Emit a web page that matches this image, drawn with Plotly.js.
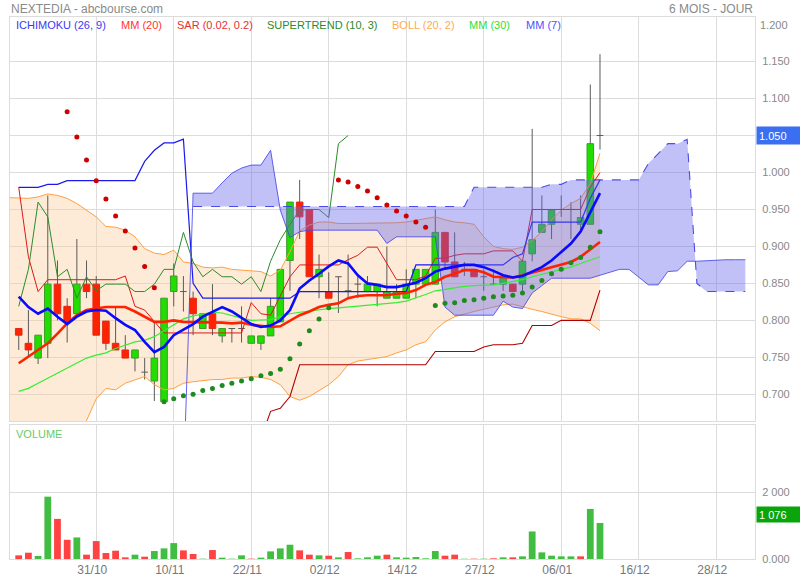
<!DOCTYPE html>
<html><head><meta charset="utf-8">
<script src="https://cdn.plot.ly/plotly-3.0.1.min.js"></script>
<style>html,body{margin:0;padding:0;background:#fff}#chart{width:800px;height:580px}</style>
</head><body><div id="chart"></div>
<script>
// ---- price data (index 0..60) ----
const openP  = [0.789,0.769,0.749,0.769,0.849,0.819,0.809,0.849,0.849,0.799,
                0.769,0.760,0.749,0.730,0.718,0.690,0.839,0.839,0.830,0.789,
                0.809,0.779,0.789,0.789,0.769,0.769,0.779,0.798,0.881,0.960,
                0.950,0.859,0.839,0.859,0.840,0.849,0.839,0.839,0.830,0.830,
                0.830,0.849,0.849,0.849,0.919,0.879,0.869,0.869,0.859,0.849,
                0.849,0.849,0.849,0.890,0.919,0.930,0.950,0.950,0.930,0.930,
                1.050];
const highP  = [0.789,0.814,0.780,0.969,0.881,0.830,0.910,0.881,0.860,0.799,
                0.819,0.780,0.760,0.749,0.798,0.830,0.877,0.860,0.839,0.809,
                0.849,0.789,0.789,0.819,0.779,0.779,0.830,0.869,0.960,0.990,
                0.950,0.889,0.865,0.859,0.889,0.859,0.860,0.849,0.900,0.849,
                0.869,0.869,0.869,0.950,0.919,0.919,0.879,0.869,0.869,0.869,
                0.859,0.849,0.880,1.059,0.969,0.949,0.969,0.960,0.969,1.119,
                1.160];
const lowP   = [0.760,0.751,0.741,0.749,0.800,0.770,0.809,0.830,0.780,0.760,
                0.760,0.749,0.731,0.720,0.691,0.690,0.819,0.812,0.780,0.789,
                0.780,0.770,0.770,0.770,0.769,0.760,0.779,0.798,0.840,0.910,
                0.859,0.830,0.830,0.810,0.830,0.830,0.839,0.819,0.830,0.830,
                0.830,0.830,0.849,0.849,0.870,0.859,0.860,0.859,0.840,0.849,
                0.840,0.839,0.839,0.880,0.919,0.910,0.940,0.910,0.919,0.930,
                1.031];
const closeP = [0.780,0.760,0.780,0.849,0.809,0.798,0.849,0.839,0.780,0.769,
                0.760,0.749,0.760,0.730,0.749,0.830,0.860,0.839,0.809,0.809,
                0.789,0.789,0.789,0.789,0.779,0.779,0.819,0.869,0.960,0.940,
                0.859,0.869,0.830,0.859,0.840,0.849,0.849,0.849,0.839,0.839,
                0.849,0.869,0.869,0.919,0.879,0.859,0.869,0.859,0.859,0.849,
                0.859,0.839,0.880,0.909,0.930,0.949,0.950,0.950,0.939,1.039,
                1.050];
const volume = [109,188,89,1861,1198,574,644,129,535,178,
                248,50,129,69,238,317,475,257,149,10,
                267,40,10,109,10,40,228,317,426,257,
                129,109,99,50,208,20,50,99,129,50,
                40,59,20,238,99,129,8,10,10,20,
                50,50,79,822,198,99,79,79,79,1495,
                1076];

// ---- indicators ----
const mm20 = [0.742,0.751,0.760,0.769,0.782,0.796,0.807,0.814,0.816,0.818,
              0.818,0.818,0.812,0.805,0.798,0.798,0.800,0.798,0.798,0.797,
              0.798,0.797,0.796,0.797,0.794,0.792,0.791,0.792,0.800,0.807,
              0.812,0.818,0.821,0.823,0.830,0.833,0.834,0.834,0.834,0.836,
              0.837,0.841,0.848,0.852,0.859,0.863,0.868,0.868,0.865,0.859,
              0.858,0.858,0.861,0.864,0.868,0.872,0.875,0.879,0.886,0.896,
              0.906];
const mm7  = [0.832,0.818,0.809,0.816,0.805,0.795,0.805,0.812,0.814,0.813,
              0.803,0.794,0.787,0.771,0.757,0.764,0.780,0.788,0.795,0.805,
              0.812,0.818,0.812,0.803,0.795,0.791,0.793,0.800,0.814,0.843,
              0.854,0.863,0.873,0.881,0.877,0.861,0.850,0.848,0.845,0.845,
              0.848,0.851,0.857,0.866,0.870,0.872,0.875,0.875,0.872,0.867,
              0.861,0.858,0.860,0.866,0.872,0.881,0.893,0.904,0.920,0.945,
              0.972];
const mm30 = [0.704,0.708,0.715,0.722,0.728,0.735,0.742,0.749,0.753,0.756,
              0.762,0.767,0.771,0.773,0.778,0.786,0.794,0.802,0.806,0.809,
              0.811,0.810,0.806,0.803,0.800,0.800,0.801,0.805,0.809,0.811,
              0.813,0.815,0.816,0.817,0.818,0.819,0.820,0.821,0.822,0.824,
              0.826,0.830,0.835,0.840,0.842,0.845,0.846,0.847,0.847,0.848,
              0.850,0.852,0.855,0.859,0.862,0.866,0.869,0.872,0.877,0.882,
              0.886];
// Bollinger bands start one session before the first candle (index -1)
const BOLL_START = -1;
const bollUpper = [0.966,
              0.965,0.965,0.967,0.971,0.969,0.965,0.958,0.949,0.940,0.927,
              0.926,0.922,0.913,0.897,0.891,0.889,0.895,0.879,0.877,0.872,
              0.871,0.872,0.869,0.868,0.867,0.866,0.860,0.868,0.893,0.921,
              0.929,0.933,0.933,0.931,0.931,0.931,0.931,0.931,0.932,0.932,
              0.933,0.935,0.937,0.940,0.936,0.933,0.932,0.930,0.913,0.900,
              0.897,0.896,0.899,0.908,0.920,0.936,0.949,0.958,0.965,0.985,
              1.026];
const bollLower = [0.510,
              0.520,0.540,0.550,0.560,0.580,0.600,0.635,0.665,0.694,0.708,
              0.706,0.715,0.719,0.724,0.713,0.706,0.708,0.715,0.717,0.719,
              0.720,0.720,0.722,0.722,0.724,0.723,0.720,0.713,0.697,0.692,
              0.697,0.705,0.713,0.724,0.740,0.745,0.747,0.749,0.751,0.756,
              0.760,0.767,0.771,0.787,0.798,0.805,0.809,0.812,0.815,0.818,
              0.821,0.822,0.818,0.815,0.812,0.808,0.805,0.802,0.802,0.796,
              0.786];
// Ichimoku
const tenkan = [0.980,0.886,0.839,0.855,0.855,0.855,0.855,0.855,0.855,0.855,
                0.855,0.860,0.819,0.814,0.798,0.783,0.783,0.783,0.783,0.783,
                0.783,0.783,0.783,0.783,0.824,0.809,0.807,0.832,0.859,0.875,
                0.875,0.875,0.875,0.875,0.882,0.888,0.899,0.899,0.877,0.855,
                0.855,0.855,0.860,0.884,0.884,0.888,0.890,0.890,0.890,0.894,
                0.894,0.894,0.880,0.950,0.950,0.950,0.950,0.950,0.950,0.980,
                1.000];
const kijun  = [0.980,0.980,0.980,0.984,0.984,0.989,0.989,0.989,0.989,0.989,
                0.989,0.989,0.989,1.015,1.030,1.040,1.040,1.045,0.850,0.830,
                0.830,0.830,0.830,0.830,0.830,0.830,0.830,0.830,0.830,0.839,
                0.839,0.839,0.839,0.839,0.839,0.839,0.839,0.839,0.839,0.839,
                0.839,0.875,0.875,0.875,0.875,0.875,0.875,0.875,0.875,0.875,
                0.875,0.885,0.890,0.933,0.933,0.933,0.933,0.933,0.933,0.965,
                0.990];
const CHIKOU_SHIFT = 26;
const SPAN_SOLID_START = 17;
const spanSolid = [0.580,
                0.972,0.972,0.972,0.986,0.999,1.006,1.010,1.010,1.030,0.949,
                0.912,0.920,0.922,0.922,0.922,0.922,0.922,0.922,0.922,0.922,
                0.904,0.913,0.913,0.913,0.913,0.913,0.818,0.807,0.807,0.807,
                0.807,0.807,0.826,0.818,0.816,0.837,0.847,0.857,0.857,0.857,
                0.857,0.857,0.861,0.865,0.869,0.869,0.858,0.848,0.848,0.866,
                0.867,0.880,0.880,0.881,0.882,0.882,0.882,0.882];
const SPAN_DASHED_START = 18;
const spanDashed = [0.954,0.954,0.954,0.954,0.954,0.954,0.954,0.954,0.954,0.954,
                0.954,0.954,0.954,0.954,0.954,0.954,0.954,0.954,0.954,0.954,
                0.954,0.954,0.954,0.954,0.954,0.954,0.954,0.954,0.954,
                0.980,0.980,0.980,0.980,0.980,0.980,0.980,0.980,
                0.984,0.984,
                0.990,0.990,0.990,0.990,0.990,0.990,0.990,0.990,
                1.012,1.025,1.039,1.039,1.045,0.850,
                0.839,0.839,0.839,0.839,0.839];
// Parabolic SAR
const sar = [null,null,null,null,null,1.082,1.048,1.017,0.989,0.964,
             0.941,0.921,0.898,0.873,0.844,0.690,0.694,0.698,0.700,0.705,
             0.708,0.712,0.715,0.718,0.721,0.725,0.728,0.734,0.748,0.768,
             0.786,0.802,0.817,0.990,0.987,0.981,0.975,0.966,0.956,0.948,
             0.941,0.933,0.926,0.820,0.823,0.824,0.827,0.828,0.830,0.832,
             0.833,0.834,0.837,0.845,0.854,0.863,0.869,0.878,0.885,0.899,
             0.920];
// Supertrend
const ST_START = 25;
const supertrend = [0.640,0.677,0.681,0.697,
             0.740,0.740,0.740,0.740,0.740,0.740,0.740,0.740,0.740,0.740,0.740,0.740,0.740,0.740,
             0.758,0.758,0.758,0.758,0.758,
             0.764,0.767,0.767,0.767,0.769,
             0.793,0.793,0.793,
             0.800,0.800,0.800,0.800,
             0.841];

// ---- axis ticks ----
const tickIdx = [8,16,24,32,40,48,56,64,72];
const tickLabels = ['31/10','10/11','22/11','02/12','14/12','27/12','06/01','16/12','28/12'];
const priceTicks = [0.70,0.75,0.80,0.85,0.90,0.95,1.00,1.05,1.10,1.15];
const lastPrice = 1.050;
const lastVolume = 1076;

// ---- build traces ----
const N = closeP.length;
const idx = closeP.map((_, i) => i);
const seq = (start, arr) => arr.map((_, i) => start + i);
const W = 0.34;

const wx = [], wy = [];
for (let i = 0; i < N; i++) {
  wx.push(i, i, null); wy.push(lowP[i], highP[i], null);
  if (openP[i] === closeP[i]) { wx.push(i - W, i + W, null); wy.push(openP[i], openP[i], null); }
}
function bodies(test) {
  const xs = [], ys = [];
  for (let i = 0; i < N; i++) {
    if (!test(i)) continue;
    const lo = Math.min(openP[i], closeP[i]), hi = Math.max(openP[i], closeP[i]);
    xs.push(i - W, i + W, i + W, i - W, i - W, null);
    ys.push(lo, lo, hi, hi, lo, null);
  }
  return {xs, ys};
}
const up = bodies(i => closeP[i] > openP[i]);
const dn = bodies(i => closeP[i] < openP[i]);

const chikouY = closeP.slice(CHIKOU_SHIFT);
const chikouX = chikouY.map((_, i) => i);

const volColors = volume.map((_, i) => {
  const rising = i === 0 ? closeP[i] >= openP[i] : closeP[i] >= closeP[i - 1];
  return rising ? '#41bd41' : '#ff4242';
});
const sarColors = sar.map((v, i) => (v !== null && v > closeP[i]) ? '#d00000' : '#1f8a1f');

const bollX = seq(BOLL_START, bollUpper);
const solidX = seq(SPAN_SOLID_START, spanSolid);
const dashedX = seq(SPAN_DASHED_START, spanDashed);
const fillOffset = SPAN_DASHED_START - SPAN_SOLID_START;

const L = (x, y, color, width, extra) => Object.assign({type:'scatter', mode:'lines', x, y,
  line:{color, width}, hoverinfo:'skip', xaxis:'x', yaxis:'y'}, extra || {});

const traces = [
  L(bollX, bollUpper, 'rgba(0,0,0,0)', 0),
  L(bollX, bollLower, 'rgba(0,0,0,0)', 0, {fill:'tonexty', fillcolor:'rgba(250,205,155,0.40)'}),
  L(wx, wy, '#5a5a5a', 1),
  L(up.xs, up.ys, '#3c9b2c', 1, {fill:'toself', fillcolor:'#22dd00'}),
  L(dn.xs, dn.ys, '#e02a1a', 1, {fill:'toself', fillcolor:'#ff2200'}),
  L(bollX, bollUpper, '#ffa040', 1),
  L(bollX, bollLower, '#ffa040', 1),
  L(idx, tenkan, '#e01818', 1),
  L(idx, kijun, '#1a1af0', 1.2),
  L(chikouX, chikouY, '#2a8c2a', 1),
  L(seq(ST_START, supertrend), supertrend, '#b00000', 1.1),
  L(dashedX, spanDashed, 'rgba(60,60,235,0.9)', 1, {line:{color:'rgba(60,60,235,0.9)', width:1.1, dash:'dash'}}),
  L(solidX.slice(fillOffset), spanSolid.slice(fillOffset), 'rgba(0,0,0,0)', 0, {fill:'tonexty', fillcolor:'rgba(100,100,235,0.40)'}),
  L(solidX, spanSolid, 'rgba(70,70,235,0.85)', 1),
  L(idx, mm30, '#33ee33', 1.2),
  L(idx, mm20, '#ff2200', 2.6),
  L(idx, mm7, '#0a0aff', 2.6),
  {type:'scatter', mode:'markers', x:idx, y:sar, marker:{color:sarColors, size:5}, hoverinfo:'skip', xaxis:'x', yaxis:'y'},
  {type:'bar', x:idx, y:volume, marker:{color:volColors}, width:0.7, hoverinfo:'skip', xaxis:'x', yaxis:'y2'}
];

const grid = '#dcdcdc';
const ann = [];
const T = (text, x, y, color, size, extra) => ann.push(Object.assign({text, x, y, xref:'paper', yref:'paper',
  showarrow:false, xanchor:'left', yanchor:'middle', font:{color, size}}, extra || {}));
T('NEXTEDIA - abcbourse.com', -0.002, 1, '#8a8a8a', 12, {yshift:8});
T('6 MOIS - JOUR', 1.0, 1, '#8a8a8a', 12, {xanchor:'right', yshift:8});
const legendItems = [
  ['ICHIMOKU (26, 9)', 15, '#3a3af5'], ['MM (20)', 120, '#ff3333'], ['SAR (0.02, 0.2)', 176, '#e53030'],
  ['SUPERTREND (10, 3)', 266, '#2a8a2a'], ['BOLL (20, 2)', 391, '#ffaa50'], ['MM (30)', 468, '#33dd33'],
  ['MM (7)', 525, '#5050ff']];
legendItems.forEach(([t, px, c]) => T(t, (px - 11) / 745, 1, c, 11, {yshift:-8}));
T('VOLUME', (15 - 11) / 745, 0.2472, '#66cc66', 11, {yshift:-9});
T('1.200', 1, 1.2, '#888', 11, {yref:'y', xshift:3});
ann.push({text:lastPrice.toFixed(3), x:1, y:lastPrice, xref:'paper', yref:'y', showarrow:false,
  xanchor:'left', yanchor:'middle', align:'left', width:40, height:13, bgcolor:'#3a6ff2', borderpad:2,
  font:{color:'#fff', size:11}, xshift:1});
ann.push({text:String(lastVolume).replace(/\B(?=(\d{3})+(?!\d))/g, ' '), x:1, y:lastVolume, xref:'paper', yref:'y2', showarrow:false,
  xanchor:'left', yanchor:'bottom', align:'left', width:40, height:11, bgcolor:'#0aa50a', borderpad:2,
  font:{color:'#fff', size:11}, xshift:1});

// the last-price box replaces the ordinary tick label at that level
const priceTickText = priceTicks.map(v => Math.abs(v - lastPrice) < 1e-9 ? '' : v.toFixed(3));

const layout = {
  width:800, height:580, margin:{l:10, r:45, t:17, b:21},
  paper_bgcolor:'#fff', plot_bgcolor:'#fff', showlegend:false,
  font:{family:'"Liberation Sans", Arial, sans-serif', color:'#888', size:11},
  bargap:0.3,
  xaxis:{range:[-0.9, 76.0], anchor:'y2', tickmode:'array', tickvals:tickIdx, ticktext:tickLabels,
    showgrid:true, gridcolor:grid, gridwidth:1, zeroline:false, showline:true, linecolor:grid, mirror:'all',
    ticks:'', tickfont:{size:12, color:'#777'}, ticklabelshift:-4, fixedrange:true},
  yaxis:{domain:[0.2546, 1], range:[0.6639, 1.2103], side:'right', anchor:'x', tickmode:'array',
    tickvals:priceTicks, ticktext:priceTickText, showgrid:true, gridcolor:grid, zeroline:false,
    showline:true, linecolor:grid, mirror:true, ticks:'', ticklabelstandoff:4, tickfont:{size:11, color:'#888'}},
  yaxis2:{domain:[0, 0.2472], range:[0, 4000], side:'right', anchor:'x', tickmode:'array',
    tickvals:[0, 2000], ticktext:['0.000', '2 000'], showgrid:true, gridcolor:grid, zeroline:false,
    showline:true, linecolor:grid, mirror:true, ticks:'', ticklabelstandoff:4, tickfont:{size:11, color:'#888'}},
  annotations:ann
};
Plotly.newPlot('chart', traces, layout, {staticPlot:true, displayModeBar:false});
</script></body></html>
